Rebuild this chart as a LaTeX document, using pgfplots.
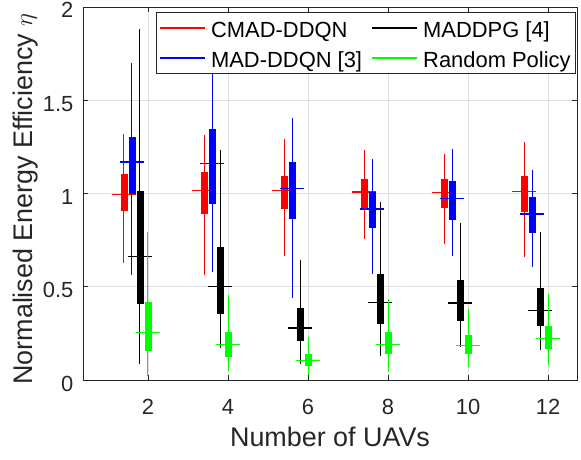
\documentclass[border=0pt]{standalone}
\usepackage{pgfplots}
\pgfplotsset{compat=1.18}
\usepgfplotslibrary{statistics}
\usepackage{fontspec}
\setmainfont{Liberation Sans}
\definecolor{axgray}{rgb}{0.15,0.15,0.15}
\definecolor{gridgray}{rgb}{0.875,0.875,0.875}
\definecolor{mred}{rgb}{1,0,0}
\definecolor{mblue}{rgb}{0,0,1}
\definecolor{mblack}{rgb}{0,0,0}
\definecolor{mgreen}{rgb}{0,1,0}
\pgfplotsset{
  boxplot/draw/median/.code={%
    \draw[/pgfplots/boxplot/every median/.try]
      (boxplot box cs:\pgfplotsboxplotvalue{median},-1.45) --
      (boxplot box cs:\pgfplotsboxplotvalue{median},2.45);}
}
% colour, position, lower whisker, lower quartile, median, upper quartile, upper whisker
\newcommand{\bx}[7]{%
  \addplot[draw=#1, fill=#1, forget plot, line width=1bp,
    boxplot/draw direction=y,
    boxplot/every box/.style={draw=#1, fill=#1, line width=0.5bp},
    boxplot/every whisker/.style={draw=#1, line width=1bp},
    boxplot/every median/.style={draw=#1, line width=1.1bp},
    boxplot prepared={draw position=#2, lower whisker=#3, lower quartile=#4,
      median=#5, upper quartile=#6, upper whisker=#7,
      box extend=0.15, whisker extend=0}] coordinates {};}
\newcommand{\legline}[1]{\addlegendimage{legend image code/.code={%
    \draw[draw=#1, line width=1.4bp] (0bp,0bp) -- (45bp,0bp); \path (49bp,0bp);}}}
\begin{document}
\begin{tikzpicture}
\begin{axis}[
  scale only axis, width=494bp, height=373bp,
  at={(0,0)}, anchor=south west,
  xmin=0.375, xmax=12.725, ymin=0, ymax=2,
  xtick={2,4,6,8,10,12}, ytick={0,0.5,1,1.5,2},
  /pgf/number format/assume math mode=true,
  tick align=inside, xtick pos=both, ytick pos=both,
  major tick length=5bp,
  grid=major, major grid style={gridgray, line width=0.7bp},
  axis line style={axgray, line width=0.8bp},
  tick style={axgray, line width=0.8bp},
  every tick label/.append style={font=\fontsize{22}{22}\selectfont, text=axgray},
  xticklabel style={anchor=base, yshift=-34bp, inner sep=0bp},
  yticklabel style={anchor=base east, xshift=-9.5bp, yshift=-11bp, inner sep=0bp},
  xlabel={Number of UAVs},
  ylabel={Normalised Energy Efficiency $\eta$},
  every axis x label/.style={at={(axis description cs:0.5,-0.178)}, anchor=base,
    font=\fontsize{27}{27}\selectfont, text=axgray, inner sep=0bp},
  every axis y label/.style={at={(axis description cs:-0.1032,0.485)}, rotate=90, anchor=base,
    font=\fontsize{27}{27}\selectfont, text=axgray, inner sep=0bp},
  legend columns=2,
  legend cell align=left,
  legend style={at={(1,1)}, anchor=north east, xshift=-1bp, yshift=-5bp,
    draw=axgray, line width=0.8bp, fill=white,
    font=\fontsize{22}{22}\selectfont,
    inner xsep=3bp, inner ysep=3bp, row sep=5bp,
    nodes={inner xsep=2bp, inner ysep=0bp, text height=22bp, text depth=3bp}},
]
\legline{mred}
\addlegendentry{CMAD-DDQN\hspace{7bp}\null}
\legline{mblack}
\addlegendentry{MADDPG [4]}
\legline{mblue}
\addlegendentry{MAD-DDQN [3]\hspace{7bp}\null}
\legline{mgreen}
\addlegendentry{Random Policy}
% N = 2
\bx{mred}{1.4}{0.629}{0.912}{0.997}{1.105}{1.319}
\bx{mblue}{1.6}{0.563}{1.001}{1.169}{1.299}{1.698}
\bx{mblack}{1.8}{0.084}{0.409}{0.661}{1.010}{1.882}
\bx{mgreen}{2.0}{0.021}{0.157}{0.254}{0.417}{0.795}
% N = 4
\bx{mred}{3.4}{0.563}{0.892}{1.017}{1.113}{1.314}
\bx{mblue}{3.6}{0.577}{0.947}{1.160}{1.346}{1.720}
\bx{mblack}{3.8}{0.170}{0.358}{0.500}{0.711}{1.233}
\bx{mgreen}{4.0}{0.048}{0.125}{0.188}{0.257}{0.456}
% N = 6
\bx{mred}{5.4}{0.667}{0.919}{1.017}{1.090}{1.292}
\bx{mblue}{5.6}{0.441}{0.869}{1.029}{1.167}{1.407}
\bx{mblack}{5.8}{0.084}{0.211}{0.279}{0.384}{0.642}
\bx{mgreen}{6.0}{0.027}{0.077}{0.104}{0.138}{0.231}
% N = 8
\bx{mred}{7.4}{0.758}{0.922}{1.008}{1.078}{1.233}
\bx{mblue}{7.6}{0.570}{0.817}{0.917}{1.006}{1.183}
\bx{mblack}{7.8}{0.130}{0.306}{0.415}{0.568}{0.954}
\bx{mgreen}{8.0}{0.045}{0.141}{0.189}{0.257}{0.433}
% N = 10
\bx{mred}{9.4}{0.727}{0.926}{1.006}{1.074}{1.212}
\bx{mblue}{9.6}{0.665}{0.863}{0.972}{1.065}{1.237}
\bx{mblack}{9.8}{0.179}{0.323}{0.413}{0.536}{0.840}
\bx{mgreen}{10.0}{0.071}{0.146}{0.184}{0.238}{0.379}
% N = 12
\bx{mred}{11.4}{0.661}{0.903}{1.013}{1.094}{1.274}
\bx{mblue}{11.6}{0.604}{0.790}{0.890}{0.978}{1.128}
\bx{mblack}{11.8}{0.159}{0.295}{0.375}{0.493}{0.794}
\bx{mgreen}{12.0}{0.082}{0.170}{0.221}{0.286}{0.461}
\end{axis}
\pgfresetboundingbox
\useasboundingbox (-83bp,-80bp) rectangle (498bp,380bp);
\end{tikzpicture}
\end{document}
